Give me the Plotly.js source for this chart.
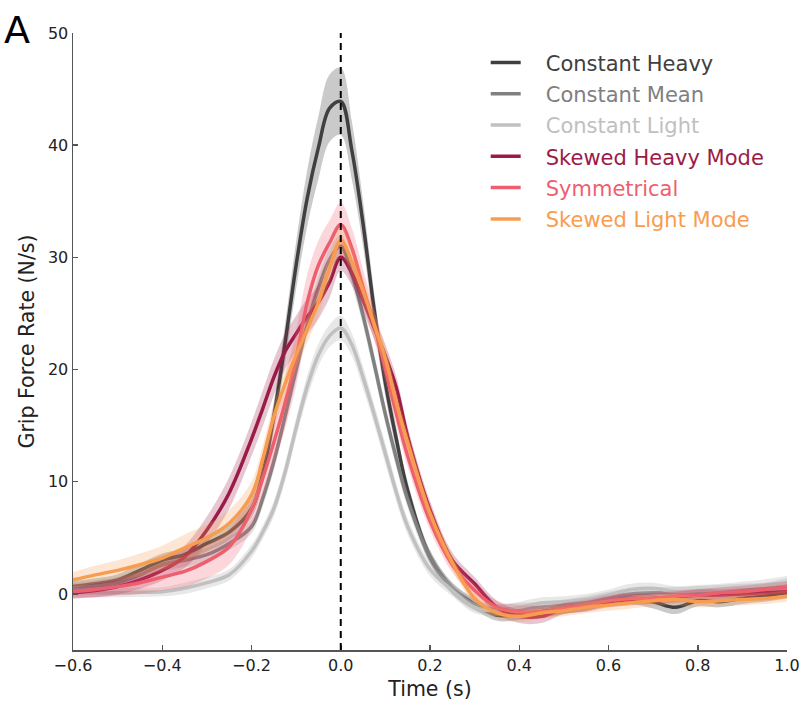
<!DOCTYPE html>
<html>
<head>
<meta charset="utf-8">
<script src="https://cdn.plot.ly/plotly-3.0.1.min.js"></script>
<style>html,body{margin:0;padding:0;background:#fff;}#chart{width:804px;height:705px;}</style>
</head>
<body>
<div id="chart"></div>
<script>
// Time axis (s)
const time = [-0.6,-0.55,-0.5,-0.45,-0.4,-0.35,-0.3,-0.25,-0.2,-0.175,-0.15,-0.125,-0.1,-0.075,-0.05,-0.025,0,0.025,0.05,0.075,0.1,0.125,0.15,0.2,0.25,0.3,0.35,0.4,0.45,0.5,0.55,0.6,0.65,0.7,0.75,0.8,0.85,0.9,0.95,1.0];

// Mean grip force rate (N/s) per condition
const constantHeavy = [0.65,0.9,1.25,2.1,3.0,3.5,4.5,5.5,7.6,10.7,15.8,22.3,29.3,35.3,39.8,43.3,43.9,39.5,33.0,25.3,18.8,13.7,9.2,3.3,0.5,-0.9,-1.9,-1.8,-1.6,-1.3,-1.0,-0.5,-0.4,-0.7,-1.2,-0.6,-0.7,-0.4,-0.2,0.1];
const constantMean  = [0.5,0.7,1.0,1.7,2.6,3.0,3.5,4.5,6.0,8.5,11.8,15.8,20.0,24.0,27.3,29.8,31.0,28.5,24.8,20.5,16.0,12.0,8.4,3.3,0.5,-1.0,-1.4,-1.3,-1.2,-1.0,-0.7,-0.3,0.0,0.1,0.1,0.2,0.3,0.4,0.5,0.8];
const constantLight = [0.1,0.1,0.1,0.15,0.2,0.5,1.0,1.7,3.8,5.5,7.6,10.8,14.8,18.5,21.3,23.0,23.7,22.2,19.3,16.0,12.5,9.0,6.0,2.2,0.3,-1.2,-1.5,-1.2,-0.8,-0.7,-0.5,-0.1,0.4,0.5,0.2,0.3,0.4,0.6,0.8,1.0];
const skewedHeavy   = [0.1,0.3,0.65,1.25,2.1,3.3,5.7,9.0,13.8,16.5,19.3,21.6,23.2,24.7,26.0,27.8,30.0,28.6,26.2,23.7,21.2,18.3,14.0,7.5,3.0,0.9,-1.2,-2.0,-2.0,-1.3,-1.1,-0.7,-0.5,-0.4,-0.3,-0.1,-0.1,0.0,0.1,0.2];
const symmetrical   = [0.2,0.4,0.65,1.0,1.5,2.0,2.9,4.2,7.5,10.3,13.5,17.0,21.0,26.0,29.3,31.3,32.9,30.8,27.3,24.0,20.0,16.0,12.3,6.5,2.6,0.3,-1.2,-1.6,-1.6,-1.3,-1.0,-0.6,-0.4,-0.4,-0.2,-0.1,0.1,0.2,0.4,0.6];
const skewedLight   = [1.25,1.7,2.1,2.6,3.2,4.1,5.0,6.3,8.8,12.0,15.8,18.7,21.3,23.6,26.0,29.0,31.5,29.6,27.0,24.0,21.0,17.0,13.5,7.2,2.8,-0.4,-1.7,-2.0,-1.7,-1.5,-1.2,-1.0,-0.8,-0.6,-0.5,-0.7,-0.6,-0.5,-0.4,-0.2];

// Standard error bands
const constantHeavySem = [0.5,0.5,0.5,0.6,0.6,0.6,0.7,0.7,0.8,1.0,1.3,1.7,2.1,2.5,2.8,3.0,3.0,2.6,2.0,1.5,1.2,1.0,0.8,0.6,0.5,0.5,0.5,0.5,0.5,0.5,0.5,0.5,0.5,0.6,0.6,0.5,0.5,0.5,0.5,0.5];
const constantMeanSem  = [0.5,0.5,0.5,0.5,0.6,0.6,0.6,0.6,0.6,0.7,0.8,0.8,0.9,0.9,1.0,1.0,1.0,1.0,0.9,0.9,0.8,0.8,0.7,0.6,0.5,0.5,0.5,0.5,0.5,0.5,0.5,0.5,0.5,0.5,0.5,0.5,0.5,0.5,0.5,0.6];
const constantLightSem = [0.4,0.4,0.4,0.4,0.4,0.5,0.5,0.5,0.6,0.6,0.7,0.8,0.9,1.0,1.0,1.0,1.1,1.0,1.0,0.9,0.9,0.8,0.7,0.6,0.5,0.5,0.5,0.5,0.5,0.5,0.5,0.5,0.5,0.5,0.5,0.5,0.5,0.5,0.5,0.6];
const skewedHeavySem   = [0.5,0.6,0.7,0.8,0.9,1.0,1.2,1.4,1.5,1.6,1.6,1.6,1.6,1.6,1.5,1.4,1.2,1.1,1.0,1.0,1.0,1.0,0.9,0.8,0.7,0.6,0.6,0.6,0.6,0.5,0.5,0.5,0.5,0.5,0.5,0.5,0.5,0.5,0.5,0.5];
const symmetricalSem   = [0.6,0.7,0.8,1.0,1.2,1.4,1.5,1.6,1.7,1.8,2.0,2.3,2.5,2.5,2.2,2.0,2.0,1.8,1.6,1.4,1.2,1.1,1.0,0.8,0.7,0.6,0.6,0.6,0.6,0.5,0.5,0.5,0.5,0.5,0.5,0.5,0.5,0.5,0.5,0.5];
const skewedLightSem   = [0.7,0.8,0.9,1.0,1.1,1.2,1.2,1.2,1.2,1.2,1.2,1.2,1.2,1.2,1.2,1.2,1.3,1.3,1.2,1.2,1.1,1.0,0.9,0.7,0.6,0.5,0.5,0.5,0.5,0.5,0.5,0.5,0.5,0.5,0.5,0.5,0.5,0.5,0.5,0.5];

const seriesNames = ["Constant Heavy","Constant Mean","Constant Light","Skewed Heavy Mode","Symmetrical","Skewed Light Mode"];
const xTickVals = [-0.6,-0.4,-0.2,0,0.2,0.4,0.6,0.8,1.0];
const yTickVals = [0,10,20,30,40,50];

const series = [
  {name: seriesNames[0], y: constantHeavy, sem: constantHeavySem, color: "#404040", band: "rgba(64,64,64,0.28)"},
  {name: seriesNames[1], y: constantMean,  sem: constantMeanSem,  color: "#808080", band: "rgba(128,128,128,0.25)"},
  {name: seriesNames[2], y: constantLight, sem: constantLightSem, color: "#c0c0c0", band: "rgba(190,190,190,0.35)"},
  {name: seriesNames[3], y: skewedHeavy,   sem: skewedHeavySem,   color: "#9b1b48", band: "rgba(155,27,72,0.25)"},
  {name: seriesNames[4], y: symmetrical,   sem: symmetricalSem,   color: "#ee5f6e", band: "rgba(238,95,110,0.25)"},
  {name: seriesNames[5], y: skewedLight,   sem: skewedLightSem,   color: "#f89c4f", band: "rgba(248,156,79,0.25)"}
];

const pad = "\u00a0\u00a0\u00a0";
const traces = [];
series.forEach((s, i) => {
  const lo = s.y.map((v, k) => v - s.sem[k]);
  const hi = s.y.map((v, k) => v + s.sem[k]);
  traces.push({x: time, y: lo, type: "scatter", mode: "lines", line: {width: 0, shape: "spline", smoothing: 1}, showlegend: false, hoverinfo: "skip"});
  traces.push({x: time, y: hi, type: "scatter", mode: "lines", fill: "tonexty", fillcolor: s.band, line: {width: 0, shape: "spline", smoothing: 1}, showlegend: false, hoverinfo: "skip"});
  traces.push({x: time, y: s.y, type: "scatter", mode: "lines", name: pad + '<span style="color:' + s.color + '">' + s.name + '</span>',
    legendgroup: "g" + i, line: {color: s.color, width: 3.5, shape: "spline", smoothing: 1}});
});

const axisCommon = {
  showline: true, linecolor: "#555", linewidth: 1.5, ticks: "inside", ticklen: 5, tickwidth: 1.5, tickcolor: "#555",
  showgrid: false, zeroline: false, tickfont: {size: 16, color: "#222", family: "DejaVu Sans"}, mirror: false
};

const layout = {
  width: 804, height: 705,
  margin: {l: 73, r: 17, t: 33, b: 55},
  paper_bgcolor: "#fff", plot_bgcolor: "#fff",
  font: {family: "DejaVu Sans", color: "#222"},
  xaxis: Object.assign({}, axisCommon, {range: [-0.6, 1.0], tickvals: xTickVals, ticktext: xTickVals.map(v => (v < 0 ? "\u2212" : "") + Math.abs(v).toFixed(1)),
    title: {text: "Time (s)", font: {size: 20.5, color: "#222"}, standoff: 8}}),
  yaxis: Object.assign({}, axisCommon, {range: [-5, 50], tickvals: yTickVals,
    title: {text: "Grip Force Rate (N/s)", font: {size: 20.5, color: "#222"}, standoff: 8}}),
  legend: {x: 0.578, y: 0.985, xanchor: "left", yanchor: "top", font: {size: 21, family: "DejaVu Sans"}, bgcolor: "rgba(0,0,0,0)", tracegroupgap: 1, itemwidth: 30},
  shapes: [{type: "line", xref: "x", yref: "paper", x0: 0, x1: 0, y0: 0, y1: 1, line: {color: "#000", width: 2, dash: "7px,5px"}}],
  annotations: [{text: "A", xref: "paper", yref: "paper", x: -0.1, y: 1.043, xanchor: "left", yanchor: "top", showarrow: false, font: {size: 38, color: "#000", family: "DejaVu Sans"}}]
};

Plotly.newPlot("chart", traces, layout, {displayModeBar: false, staticPlot: true});
</script>
</body>
</html>
